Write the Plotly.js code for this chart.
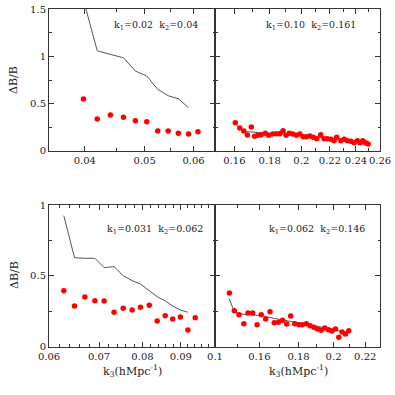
<!DOCTYPE html>
<html>
<head>
<meta charset="utf-8">
<script src="https://cdn.plot.ly/plotly-3.0.1.min.js"></script>
<style>html,body{margin:0;padding:0;background:#fff;}#plot{width:395px;height:395px;}</style>
</head>
<body>
<div id="plot"></div>
<script>
// ---- Top-left panel: k1=0.02, k2=0.04 ----
const tlK  = [0.0398, 0.0419, 0.0440, 0.0462, 0.0483, 0.0504, 0.0525, 0.0546, 0.0567, 0.0589, 0.0610];
const tlDB = [0.548, 0.336, 0.379, 0.354, 0.318, 0.308, 0.209, 0.209, 0.184, 0.177, 0.201];
const tlLineK  = [0.0398, 0.0419, 0.0440, 0.0462, 0.0483, 0.0504, 0.0525, 0.0546, 0.0567, 0.0589];
const tlLineDB = [1.60, 1.06, 1.022, 0.986, 0.845, 0.792, 0.651, 0.583, 0.551, 0.456];

// ---- Top-right panel: k1=0.10, k2=0.161 ----
const trK = [0.1605, 0.1629, 0.1651, 0.1671, 0.1693, 0.1712, 0.1731, 0.1750, 0.1774, 0.1794,
             0.1818, 0.1840, 0.1861, 0.1882, 0.1901, 0.1922, 0.1944, 0.1967, 0.1990, 0.2012,
             0.2034, 0.2057, 0.2082, 0.2106, 0.2134, 0.2158, 0.2182, 0.2207, 0.2231, 0.2251,
             0.2282, 0.2307, 0.2332, 0.2359, 0.2385, 0.2411, 0.2433, 0.2455, 0.2476, 0.2499];
const trDB = [0.297, 0.241, 0.209, 0.166, 0.251, 0.152, 0.163, 0.170, 0.184, 0.163,
              0.177, 0.180, 0.180, 0.212, 0.163, 0.184, 0.177, 0.163, 0.177, 0.148,
              0.148, 0.156, 0.142, 0.127, 0.170, 0.127, 0.127, 0.121, 0.106, 0.142,
              0.106, 0.121, 0.106, 0.100, 0.085, 0.106, 0.085, 0.106, 0.085, 0.071];
const trLineK  = [0.1605, 0.1629, 0.1651, 0.1693, 0.1750, 0.1818, 0.1901, 0.1990, 0.2082, 0.2182, 0.2282, 0.2385, 0.2499];
const trLineDB = [0.29, 0.235, 0.205, 0.197, 0.19, 0.183, 0.174, 0.163, 0.15, 0.135, 0.118, 0.10, 0.08];

// ---- Bottom-left panel: k1=0.031, k2=0.062 ----
const blK  = [0.0628, 0.0649, 0.0670, 0.0691, 0.0711, 0.0733, 0.0754, 0.0775, 0.0795, 0.0817,
              0.0837, 0.0858, 0.0878, 0.0899, 0.0920, 0.0941];
const blDB = [0.395, 0.287, 0.351, 0.325, 0.323, 0.243, 0.271, 0.259, 0.278, 0.292,
              0.181, 0.219, 0.195, 0.210, 0.118, 0.205];
const blLineK  = [0.0628, 0.0649, 0.0670, 0.0691, 0.0711, 0.0733, 0.0754, 0.0775, 0.0795, 0.0817,
                  0.0837, 0.0858, 0.0878, 0.0899, 0.0920];
const blLineDB = [0.925, 0.628, 0.624, 0.624, 0.558, 0.565, 0.501, 0.466, 0.442, 0.393,
                  0.353, 0.323, 0.287, 0.259, 0.243];

// ---- Bottom-right panel: k1=0.062, k2=0.146 ----
const brK  = [0.1462, 0.1484, 0.1505, 0.1527, 0.1546, 0.1568, 0.1589, 0.1609, 0.1631, 0.1652,
              0.1673, 0.1694, 0.1716, 0.1737, 0.1758, 0.1780, 0.1802, 0.1821, 0.1843, 0.1864,
              0.1885, 0.1905, 0.1926, 0.1948, 0.1970, 0.1990, 0.2012, 0.2032, 0.2052, 0.2073, 0.2094];
const brDB = [0.379, 0.254, 0.226, 0.162, 0.238, 0.238, 0.155, 0.226, 0.195, 0.247,
              0.169, 0.172, 0.186, 0.160, 0.217, 0.162, 0.155, 0.155, 0.162, 0.148,
              0.137, 0.125, 0.116, 0.132, 0.120, 0.111, 0.125, 0.066, 0.104, 0.090, 0.113];
const brLineK  = [0.1462, 0.1484, 0.1505, 0.1546, 0.1609, 0.1673, 0.1737, 0.1802, 0.1864, 0.1926, 0.1990, 0.2052, 0.2094];
const brLineDB = [0.335, 0.247, 0.232, 0.228, 0.219, 0.200, 0.184, 0.169, 0.158, 0.141, 0.125, 0.106, 0.100];

// ---- Tick labels ----
const tlTicks = [0.04, 0.05, 0.06];
const tlMinor = [0.035, 0.045, 0.055, 0.065];
const trTicks = [0.16, 0.18, 0.2, 0.22, 0.24, 0.26];
const trMinor = [0.15, 0.17, 0.19, 0.21, 0.23, 0.25];
const blTicks = [0.06, 0.07, 0.08, 0.09, 0.1];
const blMinor = [0.062, 0.064, 0.066, 0.068, 0.072, 0.074, 0.076, 0.078, 0.082, 0.084, 0.086, 0.088, 0.092, 0.094, 0.096, 0.098];
const brTicks = [0.16, 0.18, 0.2, 0.22];
const brMinor = [0.14, 0.15, 0.17, 0.19, 0.21, 0.23];
const topYTicks = [0, 0.5, 1, 1.5];
const topYMinor = [0.25, 0.75, 1.25];
const botYTicks = [0, 0.5, 1];
const botYMinor = [0.25, 0.75];

const FONT = 'DejaVu Serif, serif';
const RED = '#ff0000';
const LINE = '#555555';
const AX = '#333333';

function pts(x, y, xa, ya) {
  return {x: x, y: y, xaxis: xa, yaxis: ya, type: 'scatter', mode: 'markers',
          marker: {color: RED, size: 5.5}, showlegend: false, cliponaxis: true};
}
function ln(x, y, xa, ya) {
  return {x: x, y: y, xaxis: xa, yaxis: ya, type: 'scatter', mode: 'lines',
          line: {color: LINE, width: 1}, showlegend: false};
}

function xax(domain, range, ticks, minor, anchor) {
  return {domain: domain, type: 'log', range: [Math.log10(range[0]), Math.log10(range[1])],
          tickmode: 'array', tickvals: ticks, ticktext: ticks.map(String), tickangle: 0,
          ticks: 'inside', ticklen: 5, tickwidth: 1, tickcolor: AX,
          minor: {tickmode: 'array', tickvals: minor, ticks: 'inside', ticklen: 2.5, tickcolor: AX, showgrid: false},
          showline: true, linecolor: AX, linewidth: 1, mirror: 'ticks',
          showgrid: false, zeroline: false, anchor: anchor,
          tickfont: {family: FONT, size: 10, color: '#222'}};
}
function yax(domain, range, ticks, minor, anchor, showlabels) {
  return {domain: domain, range: range,
          tickmode: 'array', tickvals: ticks, ticktext: ticks.map(String),
          ticks: 'inside', ticklen: 5, tickwidth: 1, tickcolor: AX,
          minor: {tickmode: 'array', tickvals: minor, ticks: 'inside', ticklen: 2.5, tickcolor: AX, showgrid: false},
          showline: true, linecolor: AX, linewidth: 1, mirror: 'ticks',
          showgrid: false, zeroline: false, anchor: anchor, showticklabels: showlabels,
          tickfont: {family: FONT, size: 10, color: '#222'}};
}

const W = 395;
const xdL = [49 / W, 215 / W], xdR = [215 / W, 380 / W];
const ydT = [1 - 150.7 / W, 1 - 9.3 / W], ydB = [1 - 346.7 / W, 1 - 205 / W];

const data = [
  ln(tlLineK, tlLineDB, 'x', 'y'), pts(tlK, tlDB, 'x', 'y'),
  ln(trLineK, trLineDB, 'x2', 'y2'), pts(trK, trDB, 'x2', 'y2'),
  ln(blLineK, blLineDB, 'x3', 'y3'), pts(blK, blDB, 'x3', 'y3'),
  ln(brLineK, brLineDB, 'x4', 'y4'), pts(brK, brDB, 'x4', 'y4')
];

function ann(text, x, y, size, extra) {
  return Object.assign({text: text, xref: 'paper', yref: 'paper', x: x / W, y: 1 - y / W,
          showarrow: false, font: {family: FONT, size: size, color: '#222'},
          xanchor: 'center', yanchor: 'middle'}, extra || {});
}

const layout = {
  width: 395, height: 395,
  margin: {l: 0, r: 0, t: 0, b: 0},
  paper_bgcolor: '#fff', plot_bgcolor: '#fff',
  xaxis: xax(xdL, [0.035, 0.065], tlTicks, tlMinor, 'y'),
  yaxis: yax(ydT, [0, 1.5], topYTicks, topYMinor, 'x', true),
  xaxis2: xax(xdR, [0.15, 0.26], trTicks, trMinor, 'y2'),
  yaxis2: yax(ydT, [0, 1.5], topYTicks, topYMinor, 'x2', false),
  xaxis3: xax(xdL, [0.06, 0.1], blTicks, blMinor, 'y3'),
  yaxis3: yax(ydB, [0, 1], botYTicks, botYMinor, 'x3', true),
  xaxis4: xax(xdR, [0.14, 0.23], brTicks, brMinor, 'y4'),
  yaxis4: yax(ydB, [0, 1], botYTicks, botYMinor, 'x4', false),
  annotations: [
    ann('k<sub>1</sub>=0.02  k<sub>2</sub>=0.04', 156, 25, 9.5),
    ann('k<sub>1</sub>=0.10  k<sub>2</sub>=0.161', 311, 25, 9.5),
    ann('k<sub>1</sub>=0.031  k<sub>2</sub>=0.062', 155, 229, 9.5),
    ann('k<sub>1</sub>=0.062  k<sub>2</sub>=0.146', 317, 229, 9.5),
    ann('ΔB/B', 14, 80, 11, {textangle: -90}),
    ann('ΔB/B', 14, 275, 11, {textangle: -90}),
    ann('k<sub>3</sub>(hMpc<sup>-1</sup>)', 132, 371, 11),
    ann('k<sub>3</sub>(hMpc<sup>-1</sup>)', 298, 371, 11)
  ]
};

Plotly.newPlot('plot', data, layout, {staticPlot: true, displayModeBar: false});
</script>
</body>
</html>
